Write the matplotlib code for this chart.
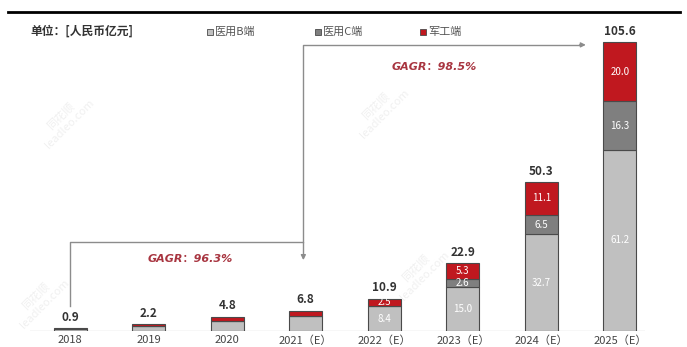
import numpy as np
import matplotlib.pyplot as plt
from matplotlib.lines import Line2D

plt.rcParams['font.family'] = ['Noto Sans CJK SC', 'DejaVu Sans']

years = ['2018', '2019', '2020', '2021（E）', '2022（E）', '2023（E）', '2024（E）', '2025（E）']
med_b = [0.7, 1.7, 3.3, 4.9, 8.4, 15.0, 32.7, 61.2]
med_c = [0.1, 0.1, 0.2, 0.2, 0.0, 2.6, 6.5, 16.3]
military = [0.1, 0.4, 1.3, 1.7, 2.5, 5.3, 11.1, 20.0]
totals = [0.9, 2.2, 4.8, 6.8, 10.9, 22.9, 50.3, 105.6]
cagr_labels = ['GAGR：96.3%', 'GAGR：98.5%']

c_b = '#c0c0c0'
c_c = '#7f7f7f'
c_m = '#c0181f'
edge = '#4a4a4a'

W, H = 687, 347
fig = plt.figure(figsize=(W / 100, H / 100), dpi=100)
# plot area: baseline at y=331px, bar centres 70px..620px
ax = fig.add_axes([30 / W, 16 / H, 615 / W, 311 / H])
x = np.arange(len(years))
ax.set_xlim(-40 / 78.57, 7 + 25 / 78.57)
ax.set_ylim(0, 105)
for s in ax.spines.values():
    s.set_visible(False)
ax.set_yticks([])
ax.set_xticks([])

w = 0.42
b = np.array(med_b)
c = np.array(med_c)
m = np.array(military)
ax.bar(x, b, w, color=c_b, edgecolor=edge, linewidth=0.8, zorder=3)
ax.bar(x, c, w, bottom=b, color=c_c, edgecolor=edge, linewidth=0.8, zorder=3)
ax.bar(x, m, w, bottom=b + c, color=c_m, edgecolor=edge, linewidth=0.8, zorder=3)
ax.axhline(0, color='#d9d9d9', lw=1.0, zorder=2)

# segment values inside the larger bars
for i in range(4, len(x)):
    ax.text(x[i], b[i] / 2, f'{b[i]:.1f}', ha='center', va='center',
            color='white', fontsize=7, zorder=4)
    if c[i] > 1:
        ax.text(x[i], b[i] + c[i] / 2, f'{c[i]:.1f}', ha='center', va='center',
                color='white', fontsize=7, zorder=4)
    ax.text(x[i], b[i] + c[i] + m[i] / 2, f'{m[i]:.1f}', ha='center', va='center',
            color='white', fontsize=7, zorder=4)

tops = b + c + m
for i in range(len(x)):
    ax.text(x[i], tops[i] + 1.5, f'{totals[i]:.1f}', ha='center', va='bottom',
            color='#333333', fontsize=8.5, fontweight='bold', zorder=4)
    ax.text(x[i], -3.2, years[i], ha='center', va='center', color='#444444',
            fontsize=8, clip_on=False)

# growth arrows
ac = '#8c8c8c'
ax.plot([0, 0, 2.97, 2.97], [8.6, 30.1, 30.1, 25.0], color=ac, lw=1.0, zorder=2)
ax.annotate('', xy=(2.97, 23.0), xytext=(2.97, 26.0),
            arrowprops=dict(arrowstyle='-|>', color=ac, lw=1.0, mutation_scale=7))
ax.plot([2.97, 2.97, 6.5], [30.1, 96.6, 96.6], color=ac, lw=1.0, zorder=2)
ax.annotate('', xy=(6.6, 96.6), xytext=(6.45, 96.6),
            arrowprops=dict(arrowstyle='-|>', color=ac, lw=1.0, mutation_scale=7))
cagr_font = ['DejaVu Sans', 'Noto Sans CJK SC']
ax.text(1.53, 24.2, cagr_labels[0], ha='center', va='center', color='#a83540',
        fontsize=8, fontstyle='italic', fontweight='bold', family=cagr_font)
ax.text(4.63, 89.0, cagr_labels[1], ha='center', va='center', color='#a83540',
        fontsize=8, fontstyle='italic', fontweight='bold', family=cagr_font)

# faint watermarks
for wx, wy in [(65, 120), (380, 110), (40, 300), (420, 272)]:
    fig.text(wx / W, 1 - wy / H, '同花顺\nleadleo.com', rotation=45, ha='center',
             va='center', color='#f0f0f0', fontsize=8, zorder=0)

# header rule, unit and legend
fig.add_artist(Line2D([8 / W, 680 / W], [1 - 12 / H] * 2, color='black', lw=2))
fig.text(30 / W, 1 - 31 / H, '单位：[人民币亿元]', fontsize=8.5, fontweight='bold',
         color='#333333', va='center')
legend_items = [('医用B端', c_b, 210), ('医用C端', c_c, 318), ('军工端', c_m, 423)]
for label, col, px in legend_items:
    fig.add_artist(Line2D([px / W], [1 - 32 / H], marker='s', markersize=5,
                          markerfacecolor=col, markeredgecolor=edge, markeredgewidth=0.6))
    fig.text((px + 5) / W, 1 - 32 / H, label, fontsize=8, color='#555555', va='center')

fig.savefig('out.png', dpi=100)
